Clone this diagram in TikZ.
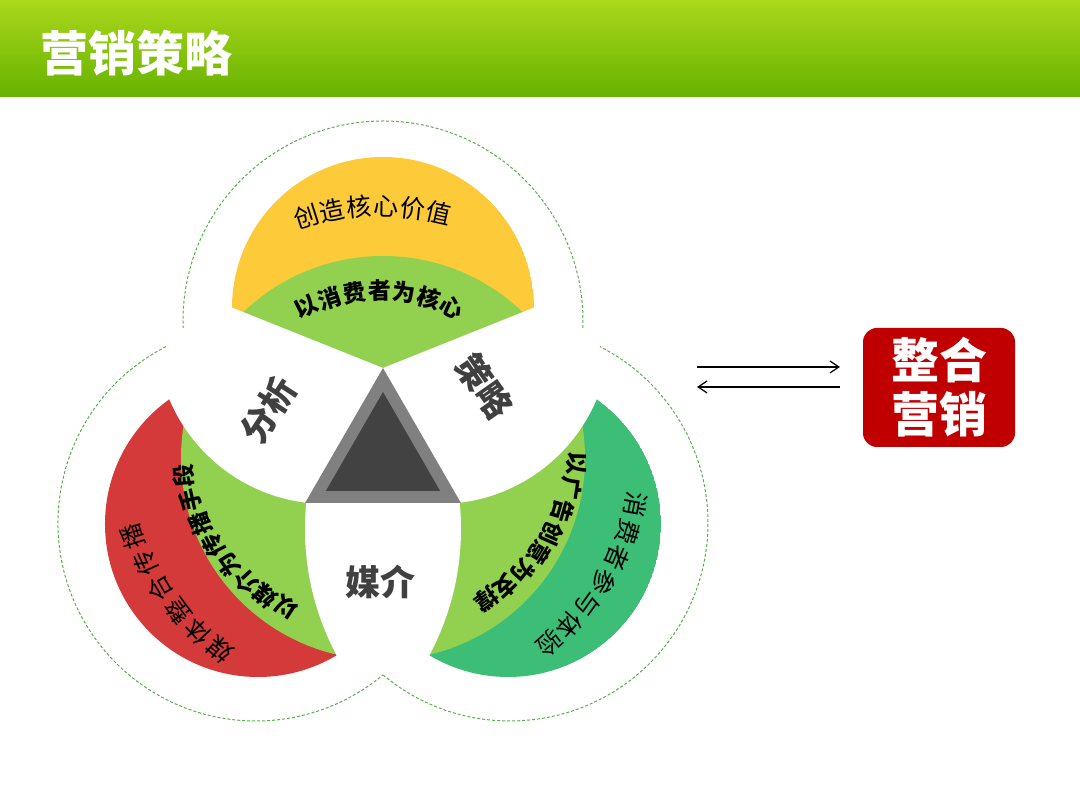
\documentclass[tikz,border=0pt]{standalone}
\usepackage{fontspec}
\setmainfont{Noto Sans CJK SC}
\usetikzlibrary{calc,arrows.meta}
\definecolor{barlight}{RGB}{170,216,28}
\definecolor{bardark}{RGB}{102,178,0}
\definecolor{petalyellow}{RGB}{253,202,58}
\definecolor{petalred}{RGB}{212,58,58}
\definecolor{petalteal}{RGB}{60,190,118}
\definecolor{ringgreen}{RGB}{146,208,80}
\definecolor{lobegreen}{RGB}{86,178,72}
\definecolor{labelgray}{RGB}{64,64,64}
\definecolor{trigray}{RGB}{128,128,128}
\definecolor{tridark}{RGB}{66,66,66}
\definecolor{boxred}{RGB}{192,0,0}
\newcommand{\arctext}[7]{%
    \foreach \ch [count=\i from 0] in {#7} {
        \pgfmathsetmacro{\ang}{#2+\i*#3}
        \pgfmathsetmacro{\rad}{#4+\i*#5}
        \node[#6, rotate=\ang-90] (#1-\i) at (\ang:\rad) {\ch};
    }%
}
\begin{document}
\begin{tikzpicture}[x=1pt,y=1pt]
    \tikzset {
        lobe/.style = {lobegreen, line width=1pt, dash pattern=on 3pt off 2pt},
        outertext/.style = {font=\fontsize{25}{25}\selectfont, inner sep=0pt},
        innertext/.style = {font=\bfseries\fontsize{23}{23}\selectfont, inner sep=0pt},
        biglabel/.style = {font=\bfseries\fontsize{35}{35}\selectfont, text=labelgray},
        titletext/.style = {font=\bfseries\fontsize{48}{48}\selectfont, text=white},
        boxstyle/.style = {fill=boxred, rounded corners=14pt, minimum width=152pt, minimum height=119pt, align=center, text=white, font=\bfseries\fontsize{48}{54}\selectfont},
        arr/.style = {line width=1.2pt, -{Straight Barb[length=9pt,width=12pt]}}
    }
    \useasboundingbox (-383,-352) rectangle (697,458);
    \shade[top color=barlight, bottom color=bardark] (-383,361) rectangle (697,458);
    \node[titletext, anchor=west] (title) at (-346,405) {营销策略};
    \draw[lobe] (0,137) ++(-2:200) arc[start angle=-2, end angle=182, radius=200];
    \draw[lobe] (-127,-65) ++(117:198) arc[start angle=117, end angle=309.9, radius=198];
    \draw[lobe] (127,-65) ++(230.1:198) arc[start angle=230.1, end angle=423, radius=198];
    \begin{scope}
        \clip (0,150) circle[radius=151];
        \fill[petalyellow] (0,150) circle[radius=151];
        \fill[ringgreen] (0,0) circle[radius=202];
    \end{scope}
    \begin{scope}
        \clip (0,150) circle[radius=154];
        \fill[white] (0,90) -- ($(0,90)!2!(-145,148)$) -- (-300,-20) -- (300,-20) -- ($(0,90)!2!(145,148)$) -- cycle;
    \end{scope}
    \foreach \s/\col in {-1/petalred, 1/petalteal} {
        \begin{scope}
            \clip (\s*125,-66) circle[radius=153];
            \fill[\col] (\s*125,-66) circle[radius=153];
            \fill[ringgreen] (0,0) circle[radius=202];
        \end{scope}
        \begin{scope}
            \clip (\s*125,-66) circle[radius=156];
            \fill[white] (\s*56,125) circle[radius=171];
            \fill[white] (\s*-189,-71) circle[radius=267];
        \end{scope}
    }
    \fill[trigray] (90:90) -- (210:90) -- (330:90) -- cycle;
    \fill[tridark] (90:66) -- (210:66) -- (330:66) -- cycle;
    \arctext{topout}{107.7}{-6.12}{253}{-0.4}{outertext}{创,造,核,心,价,值}
    \arctext{topin}{117}{-8.6}{169}{-0.5}{innertext}{以,消,费,者,为,核,心}
    \arctext{leftin}{237}{-7.43}{178}{3.14}{innertext}{以,媒,介,为,传,播,手,段}
    \arctext{leftout}{229.5}{-6.4}{252}{2}{outertext}{媒,体,整,合,传,播}
    \arctext{rightin}{-1.5}{-7.5}{193}{-2.57}{innertext}{以,广,告,创,意,为,支,撑}
    \arctext{rightout}{-10.5}{-6.27}{257}{-1.33}{outertext}{消,费,者,参,与,体,验}
    \node[biglabel, rotate=57] (fenxi) at (-115,48) {分析};
    \node[biglabel, rotate=-55] (celue) at (102,72) {策略};
    \node[biglabel] (meijie) at (-2,-124) {媒介};
    \node[boxstyle] (zhenghe) at (556,70.5) {整合\\营销};
    \coordinate (a1) at (314,91);
    \coordinate (a2) at (457,91);
    \coordinate (b1) at (457,71);
    \coordinate (b2) at (314,71);
    \draw[arr] (a1) -- (a2);
    \draw[arr] (b1) -- (b2);
\end{tikzpicture}
\end{document}
